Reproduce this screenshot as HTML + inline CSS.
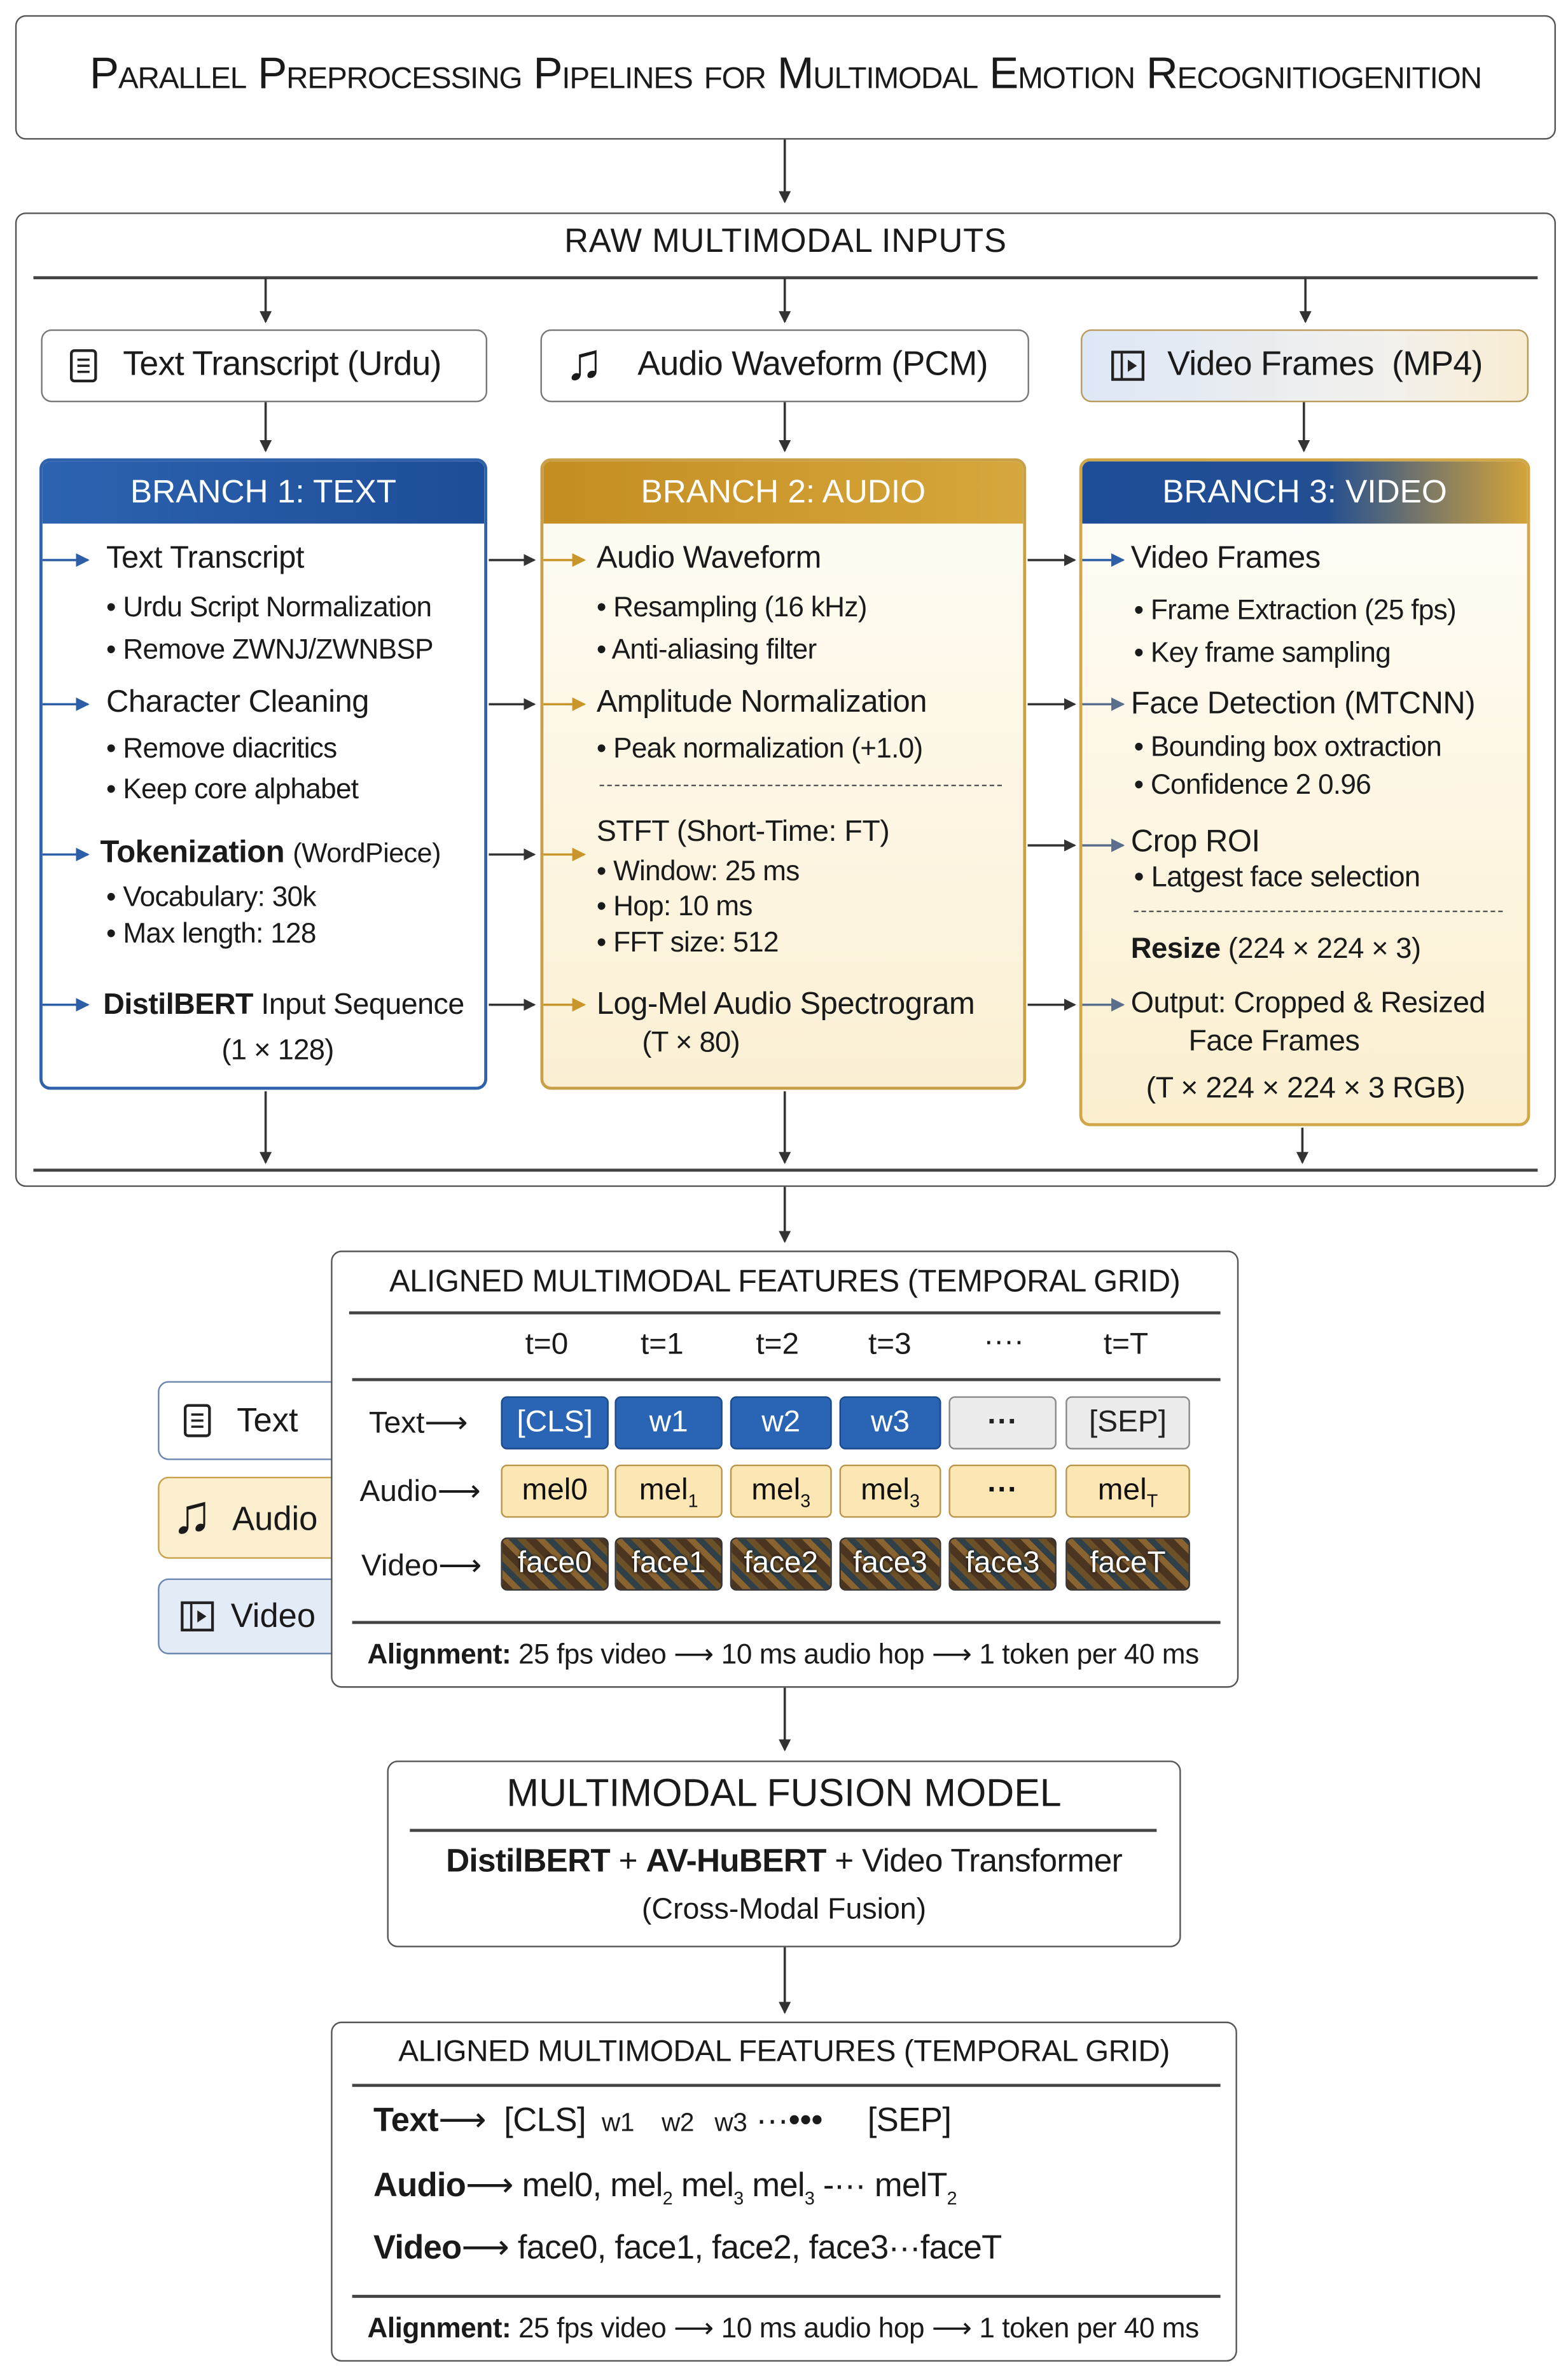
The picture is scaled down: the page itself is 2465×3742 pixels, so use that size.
<!DOCTYPE html>
<html><head><meta charset="utf-8">
<style>
html,body{margin:0;padding:0;background:#fff;}
body{width:2465px;height:3742px;overflow:hidden;position:relative;}
#c{position:absolute;left:0;top:0;width:1033px;height:1568px;transform:scale(2.3863);transform-origin:0 0;font-family:"Liberation Sans",sans-serif;color:#1a1a1a;}
.a{position:absolute;white-space:nowrap;}
.box{position:absolute;border:1.5px solid #555;border-radius:7px;background:#fff;box-sizing:border-box;}
.t{position:absolute;white-space:nowrap;line-height:24px;height:24px;}
.h{font-size:20.5px;letter-spacing:-0.2px;}
.b{font-size:18.5px;letter-spacing:-0.3px;}
.cell{position:absolute;box-sizing:border-box;border-radius:4px;text-align:center;font-size:20px;line-height:33px;height:35px;}
.tb{background:#2a64b4;border:1px solid #1b4a8a;color:#fff;}
.tg{background:#ececec;border:1px solid #888;color:#222;}
.ay{background:#fbe6b4;border:1px solid #b9954a;color:#111;}
.vf{background:repeating-linear-gradient(45deg,#4b3420 0 5px,#8a6430 5px 9px,#2f4048 9px 13px,#6b5028 13px 17px);border:1px solid #333;color:#fff;text-shadow:0 0 2px #000;}
sub{font-size:12px;}
</style></head><body><div id="c">

<!-- title -->
<div class="box" style="left:10px;top:10px;width:1015px;height:82px;"></div>
<div class="a" style="left:10px;top:33px;width:1015px;text-align:center;font-size:29px;font-variant:small-caps;letter-spacing:-0.5px;">Parallel Preprocessing Pipelines for Multimodal Emotion Recognitiogenition</div>

<!-- raw inputs -->
<div class="box" style="left:10px;top:140px;width:1015px;height:642px;"></div>
<div class="a" style="left:10px;top:146px;width:1015px;text-align:center;font-size:22px;letter-spacing:0.3px;">RAW MULTIMODAL INPUTS</div>
<div class="a" style="left:22px;top:182px;width:991px;height:1.5px;background:#444;"></div>
<div class="a" style="left:22px;top:770px;width:991px;height:1.5px;background:#444;"></div>

<div class="box" style="left:27px;top:217px;width:294px;height:48px;border-color:#777;"></div>
<div class="a" style="left:45px;top:229px;width:20px;height:24px;"><svg width="22" height="24"><rect x="2" y="2" width="16" height="20" rx="2" fill="none" stroke="#222" stroke-width="1.8"/><line x1="6" y1="8" x2="14" y2="8" stroke="#222" stroke-width="1.5"/><line x1="6" y1="12" x2="14" y2="12" stroke="#222" stroke-width="1.5"/><line x1="6" y1="16" x2="14" y2="16" stroke="#222" stroke-width="1.5"/></svg></div>
<div class="a" style="left:81px;top:227px;font-size:22.5px;letter-spacing:-0.3px;">Text Transcript (Urdu)</div>

<div class="box" style="left:356px;top:217px;width:322px;height:48px;border-color:#777;"></div>
<div class="a" style="left:372px;top:220px;font-size:34px;line-height:38px;">♫</div>
<div class="a" style="left:420px;top:227px;font-size:22.5px;letter-spacing:-0.3px;">Audio Waveform (PCM)</div>

<div class="box" style="left:712px;top:217px;width:295px;height:48px;border-color:#b89a5a;background:linear-gradient(90deg,#dde7f6,#f3f1ec 70%,#f8ecd2);"></div>
<div class="a" style="left:731px;top:229px;"><svg width="26" height="24"><rect x="2" y="3" width="20" height="18" fill="none" stroke="#222" stroke-width="1.8"/><line x1="8" y1="3" x2="8" y2="21" stroke="#222" stroke-width="1.5"/><path d="M12 8 L18 12 L12 16z" fill="#222"/></svg></div>
<div class="a" style="left:769px;top:227px;font-size:22.5px;letter-spacing:-0.3px;">Video Frames&nbsp; (MP4)</div>

<!-- branch 1 -->
<div class="box" style="left:26px;top:302px;width:295px;height:416px;border-color:#2f62aa;border-width:2px;overflow:hidden;">
<div style="height:41px;background:linear-gradient(90deg,#2c63b0,#1e4d98);color:#fff;font-size:21.5px;line-height:41px;text-align:center;">BRANCH 1: TEXT</div></div>
<div class="t h" style="left:70px;top:356px;">Text Transcript</div>
<div class="t b" style="left:70px;top:388px;">• Urdu Script Normalization</div>
<div class="t b" style="left:70px;top:416px;">• Remove ZWNJ/ZWNBSP</div>
<div class="t h" style="left:70px;top:451px;">Character Cleaning</div>
<div class="t b" style="left:70px;top:481px;">• Remove diacritics</div>
<div class="t b" style="left:70px;top:508px;">• Keep core alphabet</div>
<div class="t h" style="left:66px;top:550px;"><b>Tokenization</b> <span style="font-size:18px">(WordPiece)</span></div>
<div class="t b" style="left:70px;top:579px;">• Vocabulary: 30k</div>
<div class="t b" style="left:70px;top:603px;">• Max length: 128</div>
<div class="t h" style="left:68px;top:650px;font-size:19.5px;"><b>DistilBERT</b> Input Sequence</div>
<div class="t b" style="left:146px;top:681px;font-size:19px;">(1 × 128)</div>

<!-- branch 2 -->
<div class="box" style="left:356px;top:302px;width:320px;height:416px;border-color:#c9a04a;border-width:2px;overflow:hidden;background:linear-gradient(180deg,#fffdf6,#fbf0d4);">
<div style="height:41px;background:linear-gradient(90deg,#c48d22,#d6a73c);color:#fff;font-size:21.5px;line-height:41px;text-align:center;">BRANCH 2: AUDIO</div></div>
<div class="t h" style="left:393px;top:356px;">Audio Waveform</div>
<div class="t b" style="left:393px;top:388px;">• Resampling (16 kHz)</div>
<div class="t b" style="left:393px;top:416px;">• Anti-aliasing filter</div>
<div class="t h" style="left:393px;top:451px;">Amplitude Normalization</div>
<div class="t b" style="left:393px;top:481px;">• Peak normalization (+1.0)</div>
<div class="a" style="left:395px;top:517px;width:265px;border-top:1.5px dashed #555;"></div>
<div class="t h" style="left:393px;top:536px;font-size:19.5px;">STFT (Short-Time: FT)</div>
<div class="t b" style="left:393px;top:562px;">• Window: 25 ms</div>
<div class="t b" style="left:393px;top:585px;">• Hop: 10 ms</div>
<div class="t b" style="left:393px;top:609px;">• FFT size: 512</div>
<div class="t h" style="left:393px;top:650px;">Log-Mel Audio Spectrogram</div>
<div class="t b" style="left:423px;top:676px;font-size:19px;">(T × 80)</div>

<!-- branch 3 -->
<div class="box" style="left:711px;top:302px;width:297px;height:440px;border-color:#d0a84a;border-width:2px;overflow:hidden;background:linear-gradient(180deg,#fffefa,#fbefcf);">
<div style="height:41px;background:linear-gradient(90deg,#1e4d98 0%,#234f92 55%,#d4a33a 100%);color:#fff;font-size:21.5px;line-height:41px;text-align:center;">BRANCH 3: VIDEO</div></div>
<div class="t h" style="left:745px;top:356px;">Video Frames</div>
<div class="t b" style="left:747px;top:390px;">• Frame Extraction (25 fps)</div>
<div class="t b" style="left:747px;top:418px;">• Key frame sampling</div>
<div class="t h" style="left:745px;top:452px;">Face Detection (MTCNN)</div>
<div class="t b" style="left:747px;top:480px;">• Bounding box oxtraction</div>
<div class="t b" style="left:747px;top:505px;">• Confidence 2 0.96</div>
<div class="t h" style="left:745px;top:543px;">Crop ROI</div>
<div class="t b" style="left:747px;top:567px;font-size:19px;">• Latgest face selection</div>
<div class="a" style="left:747px;top:600px;width:243px;border-top:1.5px dashed #555;"></div>
<div class="t h" style="left:745px;top:614px;font-size:19px;"><b>Resize</b> (224 × 224 × 3)</div>
<div class="t h" style="left:745px;top:649px;font-size:19.5px;">Output: Cropped &amp; Resized</div>
<div class="t h" style="left:783px;top:674px;font-size:19.5px;">Face Frames</div>
<div class="t h" style="left:755px;top:705px;font-size:19.5px;">(T × 224 × 224 × 3 RGB)</div>

<!-- side tabs -->
<div class="box" style="left:104px;top:910px;width:130px;height:52px;border-color:#6a86b0;"></div>
<div class="a" style="left:120px;top:924px;"><svg width="22" height="24"><rect x="2" y="2" width="16" height="20" rx="2" fill="none" stroke="#222" stroke-width="1.8"/><line x1="6" y1="8" x2="14" y2="8" stroke="#222" stroke-width="1.5"/><line x1="6" y1="12" x2="14" y2="12" stroke="#222" stroke-width="1.5"/><line x1="6" y1="16" x2="14" y2="16" stroke="#222" stroke-width="1.5"/></svg></div>
<div class="a" style="left:156px;top:923px;font-size:22px;">Text</div>
<div class="box" style="left:104px;top:973px;width:130px;height:54px;border-color:#c9a04a;background:#fcefcf;"></div>
<div class="a" style="left:113px;top:978px;font-size:36px;line-height:40px;">♫</div>
<div class="a" style="left:153px;top:988px;font-size:22px;">Audio</div>
<div class="box" style="left:104px;top:1040px;width:130px;height:50px;border-color:#6a86b0;background:#e3ebf7;"></div>
<div class="a" style="left:118px;top:1053px;"><svg width="26" height="24"><rect x="2" y="3" width="20" height="18" fill="none" stroke="#222" stroke-width="1.8"/><line x1="8" y1="3" x2="8" y2="21" stroke="#222" stroke-width="1.5"/><path d="M12 8 L18 12 L12 16z" fill="#222"/></svg></div>
<div class="a" style="left:152px;top:1052px;font-size:22px;">Video</div>

<!-- aligned grid -->
<div class="box" style="left:218px;top:824px;width:598px;height:288px;"></div>
<div class="a" style="left:218px;top:833px;width:598px;text-align:center;font-size:20.5px;letter-spacing:-0.2px;">ALIGNED MULTIMODAL FEATURES (TEMPORAL GRID)</div>
<div class="a" style="left:230px;top:864px;width:574px;height:1.5px;background:#444;"></div>
<div class="a" style="left:346px;top:875px;font-size:20px;">t=0</div>
<div class="a" style="left:422px;top:875px;font-size:20px;">t=1</div>
<div class="a" style="left:498px;top:875px;font-size:20px;">t=2</div>
<div class="a" style="left:572px;top:875px;font-size:20px;">t=3</div>
<div class="a" style="left:648px;top:873px;font-size:20px;">····</div>
<div class="a" style="left:727px;top:875px;font-size:20px;">t=T</div>
<div class="a" style="left:232px;top:908px;width:572px;height:1.5px;background:#444;"></div>
<div class="a" style="left:243px;top:925px;font-size:20px;">Text⟶</div>
<div class="a" style="left:237px;top:970px;font-size:20px;">Audio⟶</div>
<div class="a" style="left:238px;top:1019px;font-size:20px;">Video⟶</div>
<div class="cell tb" style="left:330px;top:920px;width:71px;">[CLS]</div>
<div class="cell tb" style="left:405px;top:920px;width:71px;">w1</div>
<div class="cell tb" style="left:481px;top:920px;width:67px;">w2</div>
<div class="cell tb" style="left:553px;top:920px;width:67px;">w3</div>
<div class="cell tg" style="left:625px;top:920px;width:71px;font-weight:bold;">···</div>
<div class="cell tg" style="left:702px;top:920px;width:82px;">[SEP]</div>
<div class="cell ay" style="left:330px;top:965px;width:71px;">mel0</div>
<div class="cell ay" style="left:405px;top:965px;width:71px;">mel<sub>1</sub></div>
<div class="cell ay" style="left:481px;top:965px;width:67px;">mel<sub>3</sub></div>
<div class="cell ay" style="left:553px;top:965px;width:67px;">mel<sub>3</sub></div>
<div class="cell ay" style="left:625px;top:965px;width:71px;font-weight:bold;">···</div>
<div class="cell ay" style="left:702px;top:965px;width:82px;">mel<sub>T</sub></div>
<div class="cell vf" style="left:330px;top:1013px;width:71px;">face0</div>
<div class="cell vf" style="left:405px;top:1013px;width:71px;">face1</div>
<div class="cell vf" style="left:481px;top:1013px;width:67px;">face2</div>
<div class="cell vf" style="left:553px;top:1013px;width:67px;">face3</div>
<div class="cell vf" style="left:625px;top:1013px;width:71px;">face3</div>
<div class="cell vf" style="left:702px;top:1013px;width:82px;">faceT</div>
<div class="a" style="left:232px;top:1068px;width:572px;height:1.5px;background:#444;"></div>
<div class="a" style="left:242px;top:1079px;font-size:18.5px;letter-spacing:-0.2px;"><b>Alignment:</b> 25 fps video ⟶ 10 ms audio hop ⟶ 1 token per 40 ms</div>

<!-- fusion -->
<div class="box" style="left:255px;top:1160px;width:523px;height:123px;"></div>
<div class="a" style="left:255px;top:1168px;width:523px;text-align:center;font-size:25.5px;">MULTIMODAL FUSION MODEL</div>
<div class="a" style="left:270px;top:1205px;width:492px;height:1.5px;background:#444;"></div>
<div class="a" style="left:255px;top:1214px;width:523px;text-align:center;font-size:21.5px;letter-spacing:-0.3px;"><b>DistilBERT</b> + <b>AV-HuBERT</b> + Video Transformer</div>
<div class="a" style="left:255px;top:1247px;width:523px;text-align:center;font-size:19.5px;">(Cross-Modal Fusion)</div>

<!-- final -->
<div class="box" style="left:218px;top:1332px;width:597px;height:224px;"></div>
<div class="a" style="left:218px;top:1341px;width:597px;text-align:center;font-size:20px;letter-spacing:-0.2px;">ALIGNED MULTIMODAL FEATURES (TEMPORAL GRID)</div>
<div class="a" style="left:232px;top:1373px;width:572px;height:1.5px;background:#444;"></div>
<div class="a" style="left:246px;top:1384px;font-size:22px;letter-spacing:-0.2px;"><b>Text</b>⟶&nbsp; [CLS] <span style="font-size:17px">&nbsp;w1 &nbsp;&nbsp; w2 &nbsp;&nbsp;w3</span> ···•••&nbsp;&nbsp;&nbsp;&nbsp; [SEP]</div>
<div class="a" style="left:246px;top:1427px;font-size:22px;letter-spacing:-0.3px;"><b>Audio</b>⟶ mel0, mel<sub>2</sub> mel<sub>3</sub> mel<sub>3</sub> -··· melT<sub>2</sub></div>
<div class="a" style="left:246px;top:1468px;font-size:22px;letter-spacing:-0.3px;"><b>Video</b>⟶ face0, face1, face2, face3···faceT</div>
<div class="a" style="left:232px;top:1512px;width:572px;height:1.5px;background:#444;"></div>
<div class="a" style="left:242px;top:1523px;font-size:18.5px;letter-spacing:-0.2px;"><b>Alignment:</b> 25 fps video ⟶ 10 ms audio hop ⟶ 1 token per 40 ms</div>

<svg class="a" style="left:0;top:0;z-index:10" width="1033" height="1568">
<defs>
<marker id="k" markerWidth="8" markerHeight="8" refX="7" refY="4" orient="auto" markerUnits="userSpaceOnUse"><path d="M0,0 L8,4 L0,8 z" fill="#333"/></marker>
<marker id="bl" markerWidth="9" markerHeight="9" refX="8" refY="4.5" orient="auto" markerUnits="userSpaceOnUse"><path d="M0,0 L9,4.5 L0,9 z" fill="#2c5fa8"/></marker>
<marker id="gd" markerWidth="9" markerHeight="9" refX="8" refY="4.5" orient="auto" markerUnits="userSpaceOnUse"><path d="M0,0 L9,4.5 L0,9 z" fill="#c8962a"/></marker>
<marker id="gy" markerWidth="9" markerHeight="9" refX="8" refY="4.5" orient="auto" markerUnits="userSpaceOnUse"><path d="M0,0 L9,4.5 L0,9 z" fill="#5a6e8e"/></marker>
</defs>
<g stroke="#333" stroke-width="1.5" fill="none">
<line x1="517" y1="92" x2="517" y2="133" marker-end="url(#k)"/>
<line x1="175" y1="183" x2="175" y2="212" marker-end="url(#k)"/>
<line x1="517" y1="183" x2="517" y2="212" marker-end="url(#k)"/>
<line x1="860" y1="183" x2="860" y2="212" marker-end="url(#k)"/>
<line x1="175" y1="265" x2="175" y2="297" marker-end="url(#k)"/>
<line x1="517" y1="265" x2="517" y2="297" marker-end="url(#k)"/>
<line x1="859" y1="265" x2="859" y2="297" marker-end="url(#k)"/>
<line x1="175" y1="719" x2="175" y2="766" marker-end="url(#k)"/>
<line x1="517" y1="719" x2="517" y2="766" marker-end="url(#k)"/>
<line x1="858" y1="743" x2="858" y2="766" marker-end="url(#k)"/>
<line x1="517" y1="782" x2="517" y2="818" marker-end="url(#k)"/>
<line x1="517" y1="1112" x2="517" y2="1153" marker-end="url(#k)"/>
<line x1="517" y1="1283" x2="517" y2="1326" marker-end="url(#k)"/>
<line x1="322" y1="369" x2="352" y2="369" marker-end="url(#k)"/>
<line x1="322" y1="464" x2="352" y2="464" marker-end="url(#k)"/>
<line x1="322" y1="563" x2="352" y2="563" marker-end="url(#k)"/>
<line x1="322" y1="662" x2="352" y2="662" marker-end="url(#k)"/>
<line x1="677" y1="369" x2="708" y2="369" marker-end="url(#k)"/>
<line x1="677" y1="464" x2="708" y2="464" marker-end="url(#k)"/>
<line x1="677" y1="557" x2="708" y2="557" marker-end="url(#k)"/>
<line x1="677" y1="662" x2="708" y2="662" marker-end="url(#k)"/>
</g>
<g stroke="#2c5fa8" stroke-width="1.5">
<line x1="28" y1="369" x2="58" y2="369" marker-end="url(#bl)"/>
<line x1="28" y1="464" x2="58" y2="464" marker-end="url(#bl)"/>
<line x1="28" y1="563" x2="58" y2="563" marker-end="url(#bl)"/>
<line x1="28" y1="662" x2="58" y2="662" marker-end="url(#bl)"/>
<line x1="713" y1="369" x2="740" y2="369" marker-end="url(#bl)"/>
</g>
<g stroke="#c8962a" stroke-width="1.5">
<line x1="358" y1="369" x2="385" y2="369" marker-end="url(#gd)"/>
<line x1="358" y1="464" x2="385" y2="464" marker-end="url(#gd)"/>
<line x1="358" y1="563" x2="385" y2="563" marker-end="url(#gd)"/>
<line x1="358" y1="662" x2="385" y2="662" marker-end="url(#gd)"/>
</g>
<g stroke="#5a6e8e" stroke-width="1.5">
<line x1="713" y1="464" x2="740" y2="464" marker-end="url(#gy)"/>
<line x1="713" y1="557" x2="740" y2="557" marker-end="url(#gy)"/>
<line x1="713" y1="662" x2="740" y2="662" marker-end="url(#gy)"/>
</g>
</svg>

</div></body></html>
